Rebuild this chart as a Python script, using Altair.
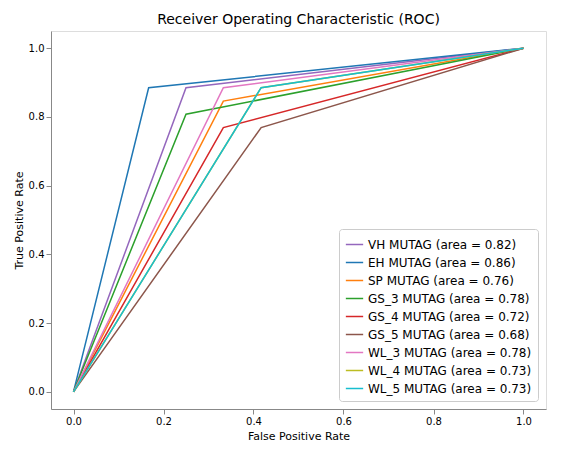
import altair as alt
import pandas as pd

names = ["VH MUTAG", "EH MUTAG", "SP MUTAG", "GS_3 MUTAG", "GS_4 MUTAG",
         "GS_5 MUTAG", "WL_3 MUTAG", "WL_4 MUTAG", "WL_5 MUTAG"]
areas = [0.82, 0.86, 0.76, 0.78, 0.72, 0.68, 0.78, 0.73, 0.73]
fpr_mid = [0.25, 0.167, 0.333, 0.25, 0.333, 0.417, 0.333, 0.417, 0.417]
tpr_mid = [0.885, 0.885, 0.846, 0.808, 0.769, 0.769, 0.885, 0.885, 0.885]
colors = ["#9467bd", "#1f77b4", "#ff7f0e", "#2ca02c", "#d62728",
          "#8c564b", "#e377c2", "#bcbd22", "#17becf"]

rows = []
labels = []
for i, n in enumerate(names):
    lab = f"{n} (area = {areas[i]:.2f})"
    labels.append(lab)
    for k, (fx, ty) in enumerate([(0.0, 0.0), (fpr_mid[i], tpr_mid[i]), (1.0, 1.0)]):
        rows.append({"label": lab, "fpr": fx, "tpr": ty, "idx": i, "step": k})
df = pd.DataFrame(rows)

ticks = [0, 0.2, 0.4, 0.6, 0.8, 1.0]

chart = alt.Chart(df).mark_line(strokeWidth=1.5).encode(
    x=alt.X("fpr:Q", title="False Positive Rate",
            scale=alt.Scale(domain=[-0.05, 1.05], nice=False),
            axis=alt.Axis(values=ticks, format=".1f", grid=False, titleFontWeight="normal")),
    y=alt.Y("tpr:Q", title="True Positive Rate",
            scale=alt.Scale(domain=[-0.05, 1.05], nice=False),
            axis=alt.Axis(values=ticks, format=".1f", grid=False, titleFontWeight="normal")),
    color=alt.Color("label:N", sort=labels,
                    scale=alt.Scale(domain=labels, range=colors),
                    legend=alt.Legend(title=None, orient="bottom-right", symbolType="stroke",
                                      strokeColor="#cccccc", fillColor="white", padding=6,
                                      labelFontSize=12, labelLimit=300, symbolSize=300,
                                      offset=8, cornerRadius=3)),
    order=alt.Order("step:Q"),
    detail="idx:N",
).properties(
    width=495, height=378,
    title=alt.Title("Receiver Operating Characteristic (ROC)", fontSize=14, fontWeight="normal"),
).configure_view(stroke="black").configure_axis(
    labelFontSize=11, titleFontSize=11, domain=False,
    tickColor="black", labelColor="black", titleColor="black"
).configure(font="DejaVu Sans")

chart.save("out.html", embed_options={"renderer": "svg", "actions": False})
